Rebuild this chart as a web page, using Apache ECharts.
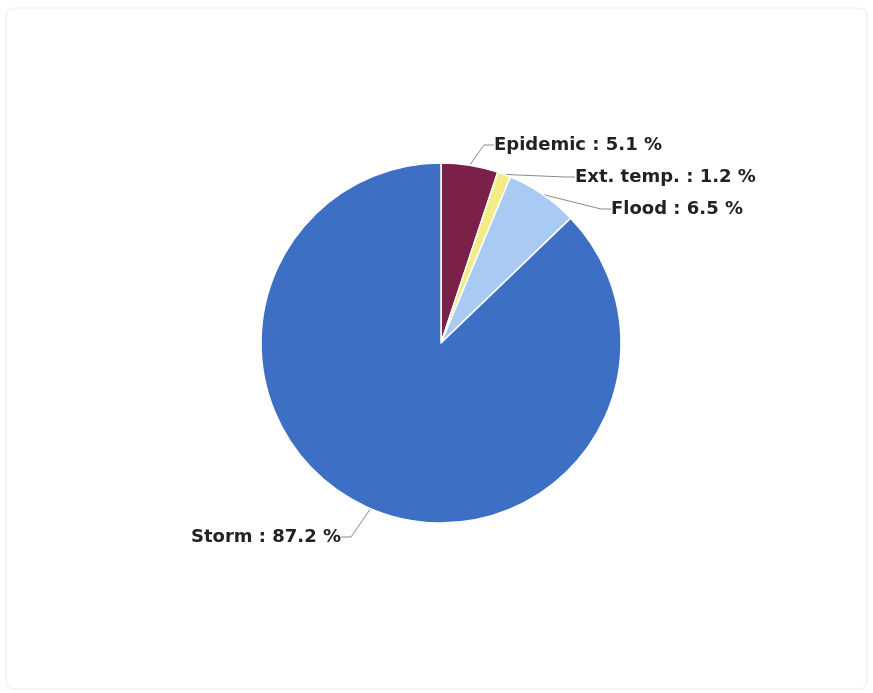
<!DOCTYPE html>
<html>
<head>
<meta charset="utf-8">
<script src="https://cdn.jsdelivr.net/npm/echarts@6/dist/echarts.min.js"></script>
<style>
html,body{margin:0;padding:0;background:#fff;}
#chart{width:873px;height:693px;}
</style>
</head>
<body>
<div id="chart"></div>
<script>
const categories = ['Epidemic', 'Ext. temp.', 'Flood', 'Storm'];
const shares = [5.1, 1.2, 6.5, 87.2];
const colors = ['#7b2049', '#f3ec86', '#a9cbf3', '#3d70c4'];

const labelSpots = [
  {x: 494, y: 145, align: 'left'},
  {x: 575, y: 177, align: 'left'},
  {x: 611, y: 209, align: 'left'},
  {x: 341, y: 537, align: 'right'}
];

const chart = echarts.init(document.getElementById('chart'));
chart.setOption({
  backgroundColor: '#ffffff',
  animation: false,
  graphic: [{
    type: 'rect',
    shape: {x: 6, y: 8, width: 861, height: 681, r: 8},
    style: {fill: 'none', stroke: '#ececec', lineWidth: 1},
    silent: true
  }],
  series: [{
    type: 'pie',
    center: [441, 343],
    radius: 180,
    startAngle: 90,
    clockwise: true,
    avoidLabelOverlap: false,
    itemStyle: {borderColor: '#ffffff', borderWidth: 1.5},
    label: {
      show: true,
      formatter: function (p) { return p.name + ' : ' + p.value + ' %'; },
      fontFamily: 'DejaVu Sans',
      fontWeight: 'bold',
      fontSize: 18,
      color: '#222222'
    },
    labelLine: {
      show: true,
      length: 14,
      length2: 10,
      lineStyle: {color: '#8a8a8a', width: 1}
    },
    labelLayout: function (params) {
      const s = labelSpots[params.dataIndex];
      return {x: s.x, y: s.y, align: s.align, verticalAlign: 'middle'};
    },
    data: categories.map(function (c, i) {
      return {name: c, value: shares[i], itemStyle: {color: colors[i]}};
    })
  }]
});
</script>
</body>
</html>
